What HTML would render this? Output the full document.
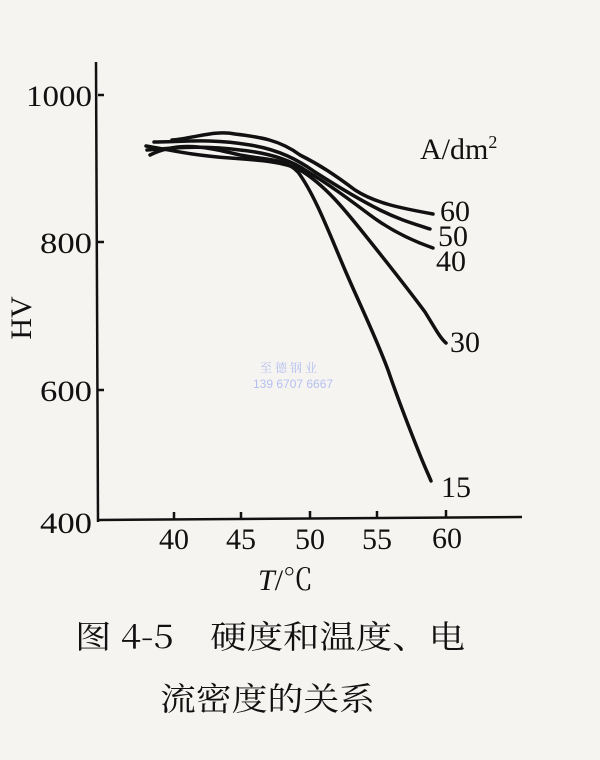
<!DOCTYPE html>
<html><head><meta charset="utf-8"><style>
html,body{margin:0;padding:0;background:#f6f4f1;}
svg{display:block}
text{font-family:"Liberation Serif","Noto Serif CJK SC",serif;fill:#111}
</style></head><body>
<svg width="600" height="760" viewBox="0 0 600 760" xmlns="http://www.w3.org/2000/svg">
<rect width="600" height="760" fill="#f6f4f1"/>
<g stroke="#111" stroke-width="2.5" fill="none">
<path d="M96 62 L98 522"/>
<path d="M98 520 L522 517"/>
<path d="M98 95 L104 95 M98 242 L104 242 M98 390 L104 390"/>
<path d="M174 520 L174 512 M241 520 L241 512 M310 519 L310 511 M377 519 L377 511 M446 518 L446 510"/>
</g>
<g stroke="#111" stroke-width="3.5" fill="none" stroke-linecap="round" stroke-linejoin="round">
<path d="M150 155 C180 140 210 148 240 155 C265 160 285 158 298 172 C315 195 330 235 345 270 C360 305 375 335 388 370 C400 405 410 430 420 455 C426 470 430 478 431 481"/>
<path d="M146 146 C170 150 190 155 230 158 C260 160 285 162 300 170 C325 185 345 210 365 235 C385 260 405 285 425 312 C435 328 440 338 446 343"/>
<path d="M147 150 C170 148 200 145 240 150 C270 153 290 160 305 170 C330 185 350 200 370 215 C390 230 410 240 433 248"/>
<path d="M154 142 C180 142 210 138 250 145 C280 150 298 160 315 172 C340 188 360 200 380 210 C400 220 415 224 430 229"/>
<path d="M172 140 C195 138 215 130 235 134 C260 137 280 140 300 155 C320 165 335 175 355 190 C375 203 400 208 433 214"/>
</g>
<g font-size="30">
<text x="26" y="106" textLength="66" lengthAdjust="spacingAndGlyphs">1000</text>
<text x="40" y="253" textLength="52" lengthAdjust="spacingAndGlyphs">800</text>
<text x="40" y="401" textLength="52" lengthAdjust="spacingAndGlyphs">600</text>
<text x="40" y="533" textLength="52" lengthAdjust="spacingAndGlyphs">400</text>
<text x="174" y="549" text-anchor="middle">40</text>
<text x="241" y="549" text-anchor="middle">45</text>
<text x="310" y="549" text-anchor="middle">50</text>
<text x="377" y="549" text-anchor="middle">55</text>
<text x="447" y="548" text-anchor="middle">60</text>
<text x="440" y="221">60</text>
<text x="438" y="246">50</text>
<text x="436" y="271">40</text>
<text x="450" y="352">30</text>
<text x="441" y="497">15</text>
<text x="420" y="159">A/dm<tspan font-size="18" dy="-11">2</tspan></text>
<text transform="translate(31 318) rotate(-90)" text-anchor="middle">HV</text>
<text x="258" y="590"><tspan font-style="italic">T</tspan>/℃</text>
</g>
<g font-size="32">
<text x="75" y="648" textLength="390" lengthAdjust="spacingAndGlyphs" style="font-family:'Noto Serif CJK SC',serif">图 4-5　硬度和温度、电</text>
<text x="160" y="710" textLength="215" lengthAdjust="spacingAndGlyphs" style="font-family:'Noto Serif CJK SC',serif">流密度的关系</text>
</g>
<g font-size="12">
<text x="260" y="372" style="fill:#b5c0f0">至 德 钢 业</text>
<text x="253" y="388" style="fill:#b5c0f0;font-family:'Liberation Sans',sans-serif">139 6707 6667</text>
</g>
</svg>
</body></html>
